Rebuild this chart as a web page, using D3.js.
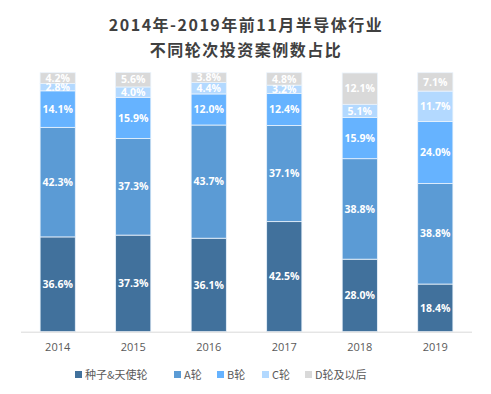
<!DOCTYPE html>
<html><head><meta charset="utf-8">
<script src="https://cdn.jsdelivr.net/npm/d3@7/dist/d3.min.js"></script>
<style>body{margin:0;background:#fff;}svg{display:block;}</style>
</head><body><svg id="c" width="491" height="394"></svg>
<script>
const years = ["2014","2015","2016","2017","2018","2019"];
const seriesNames = ["种子&天使轮","A轮","B轮","C轮","D轮及以后"];
const seed  = [36.6, 37.3, 36.1, 42.5, 28.0, 18.4];
const roundA = [42.3, 37.3, 43.7, 37.1, 38.8, 38.8];
const roundB = [14.1, 15.9, 12.0, 12.4, 15.9, 24.0];
const roundC = [2.8, 4.0, 4.4, 3.2, 5.1, 11.7];
const roundD = [4.2, 5.6, 3.8, 4.8, 12.1, 7.1];
const colors = ["#41719c","#5b9bd5","#66b3ff","#b3d9ff","#d9d9d9"];
const titleLines = ["2014年-2019年前11月半导体行业","不同轮次投资案例数占比"];

const svg = d3.select("#c");
const values = [seed, roundA, roundB, roundC, roundD];
const data = years.map((y,i)=>{const o={year:y}; seriesNames.forEach((s,k)=>o[s]=values[k][i]); return o;});
const stack = d3.stack().keys(seriesNames)(data);

const x = d3.scaleBand().domain(years).range([21,472]).paddingInner(0.534).paddingOuter(0.253);
const y = d3.scaleLinear().domain([0,100]).range([331.7,72.7]);

svg.selectAll("text.title").data(titleLines).join("text")
  .attr("x",246).attr("y",(d,i)=>31+i*25).attr("text-anchor","middle")
  .attr("font-family","'Noto Sans CJK SC'").attr("font-weight","bold").attr("font-size",16)
  .attr("letter-spacing",1.5).attr("fill","#404040").text(d=>d);

const g = svg.append("g");
stack.forEach((layer,k)=>{
  g.selectAll(null).data(layer).join("rect")
   .attr("x",d=>x(d.data.year)).attr("width",x.bandwidth())
   .attr("y",d=>y(d[1])).attr("height",d=>y(d[0])-y(d[1]))
   .attr("fill",colors[k]).attr("stroke","#eaf3fc").attr("stroke-width",0.8);
});
stack.forEach((layer,k)=>{
  g.selectAll(null).data(layer).join("text")
   .attr("x",d=>x(d.data.year)+x.bandwidth()/2).attr("y",d=>(y(d[0])+y(d[1]))/2)
   .attr("dy","0.35em").attr("text-anchor","middle")
   .attr("font-family","'Open Sans', sans-serif").attr("font-weight","bold").attr("font-size",10.5)
   .attr("fill","#fff").text(d=>(d[1]-d[0]).toFixed(1)+"%");
});

const ax = svg.append("g").attr("transform","translate(0,331.7)")
  .call(d3.axisBottom(x).tickSize(0).tickPadding(12));
ax.select(".domain").attr("stroke","#d9d9d9").attr("d","M21,0.5H472");
ax.selectAll("text").attr("font-family","'Open Sans', sans-serif").attr("font-size",11).attr("fill","#595959");

const legX = [75,174,217,262,305];
const leg = svg.append("g");
seriesNames.forEach((s,k)=>{
  leg.append("rect").attr("x",legX[k]).attr("y",371).attr("width",7).attr("height",7).attr("fill",colors[k]);
  leg.append("text").attr("x",legX[k]+10).attr("y",378.5)
    .attr("font-family","'Noto Sans CJK SC'").attr("font-size",11).attr("fill","#595959").text(s);
});
</script></body></html>
